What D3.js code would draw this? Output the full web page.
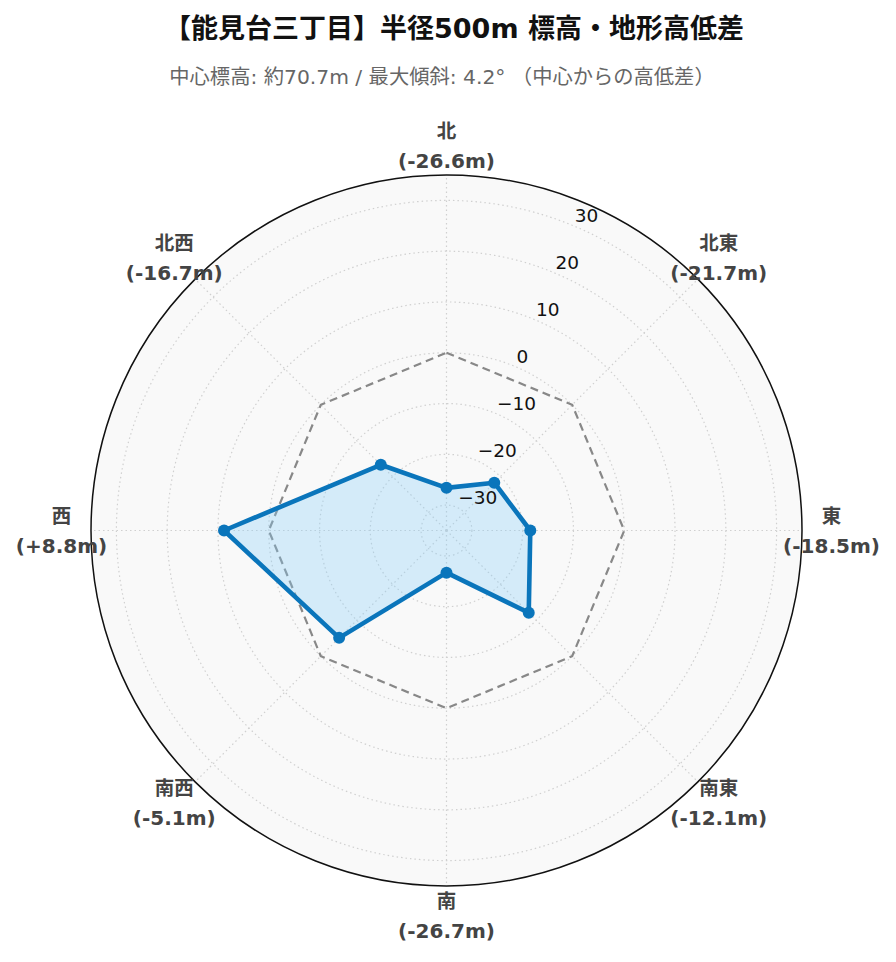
<!DOCTYPE html>
<html>
<head>
<meta charset="utf-8">
<script src="https://cdn.jsdelivr.net/npm/d3@7"></script>
<style>
  html, body { margin: 0; padding: 0; background: #ffffff; }
  svg { display: block; }
  text { font-family: "DejaVu Sans", "Noto Sans CJK JP", sans-serif; }
</style>
</head>
<body>
<svg id="chart" width="896" height="962"></svg>
<script>
// ---- data ----
const directions = ["北", "北東", "東", "南東", "南", "南西", "西", "北西"];
const elevationDiff = [-26.6, -21.7, -18.5, -12.1, -26.7, -5.1, 8.8, -16.7];
const referenceLevel = [0, 0, 0, 0, 0, 0, 0, 0];
const radialTicks = [-30, -20, -10, 0, 10, 20, 30];
const radialDomain = [-35, 35];
const titleText = "【能見台三丁目】半径500m 標高・地形高低差";
const subtitleText = "中心標高: 約70.7m / 最大傾斜: 4.2° （中心からの高低差）";

// ---- layout ----
const svg = d3.select("#chart");
const cx = 446.5, cy = 530.5, R = 355.5;
const labelR = 385;

const r = d3.scaleLinear().domain(radialDomain).range([0, R]);
const ang = d => directions.indexOf(d) * (2 * Math.PI / directions.length);

const g = svg.append("g").attr("transform", `translate(${cx},${cy})`);

// title
svg.append("text").attr("x", 454).attr("y", 28)
  .attr("text-anchor", "middle").attr("dominant-baseline", "central")
  .attr("font-size", 27).attr("font-weight", "bold").attr("fill", "#111")
  .text(titleText);
svg.append("text").attr("x", 442).attr("y", 77)
  .attr("text-anchor", "middle").attr("dominant-baseline", "central")
  .attr("font-size", 20.3).attr("fill", "#666")
  .text(subtitleText);

// background
g.append("circle").attr("r", R).attr("fill", "#f9f9f9");

// radial grid circles
g.selectAll(".rgrid").data(radialTicks).enter().append("circle")
  .attr("r", d => r(d)).attr("fill", "none")
  .attr("stroke", "#d0d0d0").attr("stroke-width", 1.2)
  .attr("stroke-dasharray", "1.5,3");

// spokes
g.selectAll(".spoke").data(directions).enter().append("line")
  .attr("x1", 0).attr("y1", 0)
  .attr("x2", d => R * Math.sin(ang(d)))
  .attr("y2", d => -R * Math.cos(ang(d)))
  .attr("stroke", "#d0d0d0").attr("stroke-width", 1.2)
  .attr("stroke-dasharray", "1.5,3");

const radial = d3.lineRadial().curve(d3.curveLinearClosed)
  .angle((d, i) => ang(directions[i]))
  .radius(d => r(d));

// reference (0 m) dashed polygon
g.append("path").attr("d", radial(referenceLevel))
  .attr("fill", "none").attr("stroke", "#888").attr("stroke-width", 2.2)
  .attr("stroke-dasharray", "8,5");

// data area
g.append("path").attr("d", radial(elevationDiff))
  .attr("fill", "rgba(135,206,250,0.32)")
  .attr("stroke", "#0a75bb").attr("stroke-width", 4.6)
  .attr("stroke-linejoin", "round");

g.selectAll(".pt").data(elevationDiff).enter().append("circle")
  .attr("cx", (d, i) => r(d) * Math.sin(ang(directions[i])))
  .attr("cy", (d, i) => -r(d) * Math.cos(ang(directions[i])))
  .attr("r", 6).attr("fill", "#0a75bb");

// radial tick labels at 22.5°
const tickAng = Math.PI / 8;
g.selectAll(".rtick").data(radialTicks).enter().append("text")
  .attr("x", d => r(d) * Math.sin(tickAng) + 2)
  .attr("y", d => -r(d) * Math.cos(tickAng) - 10)
  .attr("text-anchor", "start").attr("dominant-baseline", "central")
  .attr("font-size", 18.5).attr("fill", "#111")
  .text(d => String(d).replace("-", "\u2212"));

// outer circle
g.append("circle").attr("r", R).attr("fill", "none")
  .attr("stroke", "#111").attr("stroke-width", 1.5);

// angular labels
const fmt = v => "(" + (v > 0 ? "+" : "") + v.toFixed(1) + "m)";
const lab = g.selectAll(".alab").data(directions).enter().append("g")
  .attr("transform", d => `translate(${labelR * Math.sin(ang(d))},${-labelR * Math.cos(ang(d))})`);
lab.append("text").attr("y", -14.5)
  .attr("text-anchor", "middle").attr("dominant-baseline", "central")
  .attr("font-size", 19.5).attr("font-weight", "bold").attr("fill", "#444")
  .text(d => d);
lab.append("text").attr("y", 15)
  .attr("text-anchor", "middle").attr("dominant-baseline", "central")
  .attr("font-size", 20).attr("font-weight", "bold").attr("fill", "#444")
  .text((d, i) => fmt(elevationDiff[i]));
</script>
</body>
</html>
